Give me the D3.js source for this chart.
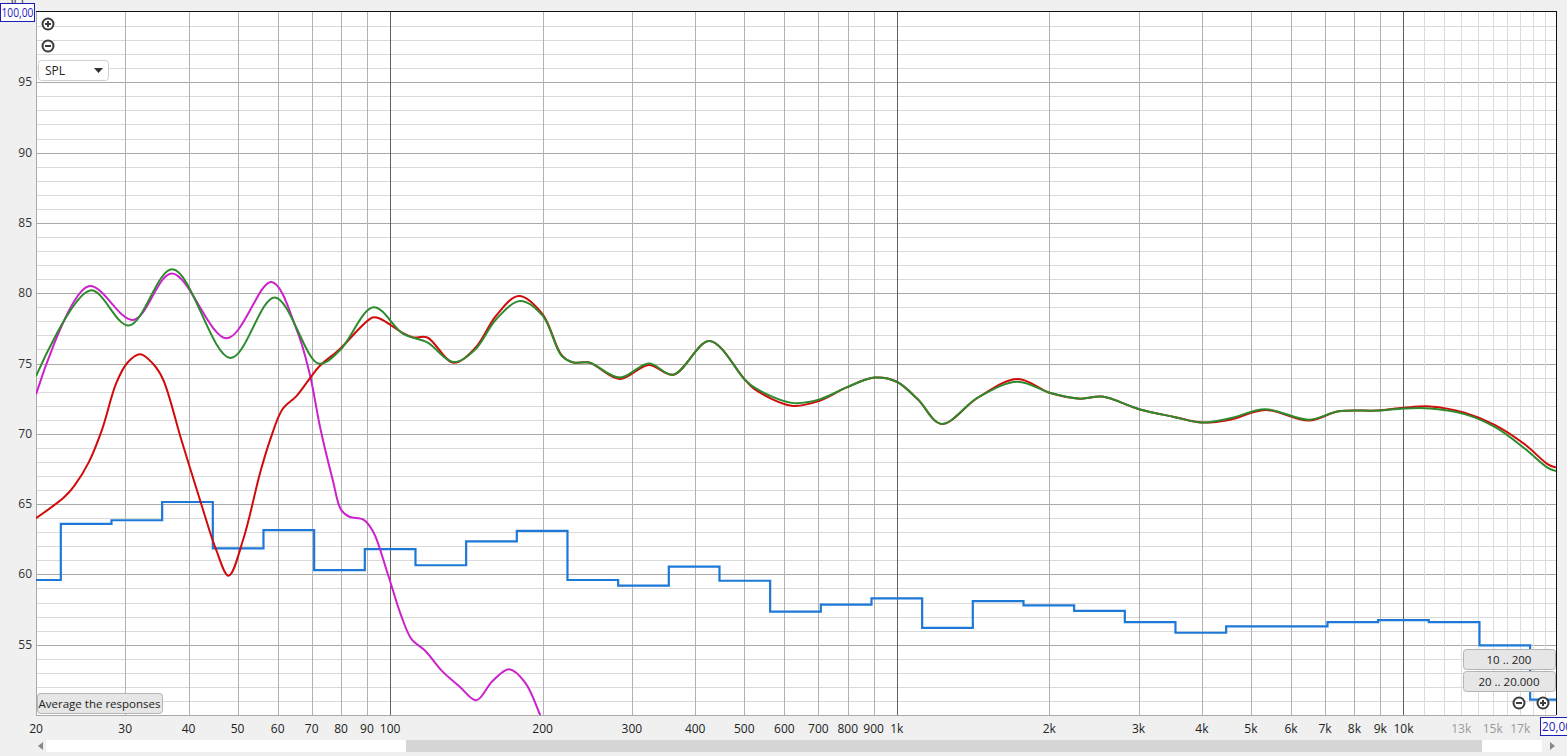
<!DOCTYPE html>
<html lang="en">
<head>
    <meta charset="UTF-8">
    <title>SPL response</title>
    <script src="https://d3js.org/d3.v7.min.js"></script>
    <style>
        body {
            margin: 0;
            padding: 0;
            background-color: #f0f0f0;
            overflow: hidden;
        }
        svg text {
            font-family: "Open Sans", "Noto Sans", sans-serif;
            font-size: 12px;
        }
    </style>
</head>
<body>
<div id="chart"></div>
<script>
    // --- data ---
    // 1/3 octave bands (blue step trace)
    const bandCenters = [20, 25, 31.5, 40, 50, 63, 80, 100, 125, 160, 200, 250, 315, 400, 500, 630, 800,
        1000, 1250, 1600, 2000, 2500, 3150, 4000, 5000, 6300, 8000, 10000, 12500, 16000, 20000];
    const bandLevels = [59.6, 63.6, 63.85, 65.15, 61.85, 63.15, 60.3, 61.8, 60.65, 62.35, 63.1, 59.6, 59.2, 60.55, 59.55, 57.35, 57.85,
        58.3, 56.2, 58.1, 57.8, 57.4, 56.6, 55.85, 56.3, 56.3, 56.6, 56.75, 56.6, 54.95, 51.1];

    // red trace
    const redFreq = [20, 22.75, 23.8, 25.4, 27.0, 28.8, 30.3, 32.1, 34.0, 35.6, 38.7, 42.5, 45.3, 48.0, 51.3, 55.4, 58.0, 61.3, 65.4, 69.3, 72.5, 79.4,
        92.3, 95.3, 106.2, 111.1, 118.4, 133.3, 147.2, 161.9, 179.4, 200, 218, 230, 247, 284, 324, 362, 427, 500, 523, 620, 704, 796, 904,
        1000, 1100, 1225, 1449, 1730, 2010, 2302, 2543, 3008, 3526, 4004, 4548, 5330, 6506, 7454, 8897, 10000, 11290, 13200, 15200, 17420, 19240, 20000];
    const redDb = [64.0, 65.5, 66.3, 67.95, 70.3, 73.6, 75.05, 75.65, 75.0, 73.9, 69.6, 64.86, 61.8, 59.9, 62.5, 67.24, 69.6, 71.75, 72.7, 73.9, 74.8, 76.0,
        78.27, 78.2, 77.15, 76.85, 76.85, 75.05, 76.1, 78.4, 79.8, 78.5, 75.6, 75.07, 75.07, 73.9, 74.9, 74.2, 76.6, 73.9, 73.2, 72.0, 72.35, 73.3, 74.0,
        73.7, 72.45, 70.7, 72.6, 73.9, 72.9, 72.5, 72.65, 71.75, 71.2, 70.8, 71.0, 71.7, 70.95, 71.6, 71.65, 71.85, 71.95, 71.5, 70.6, 69.2, 67.85, 67.6];

    // green trace
    const greenFreq = [20, 25.6, 30.5, 37.2, 48.4, 59.2, 72.2, 79.4, 92.7, 106.2, 118.4, 133.3, 147.2, 161.9, 180.6, 200, 218, 230, 247, 284, 324,
        362, 427, 500, 523, 620, 704, 796, 904, 1000, 1100, 1225, 1449, 1730, 2010, 2302, 2543, 3008, 3526, 4004, 4548, 5330, 6506, 7454, 8897,
        10000, 11290, 13200, 15200, 17420, 19240, 20000];
    const greenDb = [74.1, 80.2, 77.7, 81.7, 75.4, 79.7, 75.0, 75.9, 79.0, 77.1, 76.5, 75.1, 76.0, 78.15, 79.45, 78.4, 75.55, 75.07, 75.07, 74.0, 75.0,
        74.2, 76.6, 73.9, 73.3, 72.2, 72.45, 73.3, 74.0, 73.7, 72.45, 70.7, 72.6, 73.7, 72.9, 72.5, 72.65, 71.75, 71.2, 70.8, 71.1, 71.75, 71.0, 71.6, 71.65,
        71.8, 71.8, 71.4, 70.45, 68.9, 67.6, 67.35];

    // magenta trace
    const magentaFreq = [20, 25.4, 31.1, 37.1, 47.6, 58.3, 65.4, 69.3, 72.9, 77.0, 80.0, 83.1, 88.6, 92.7, 98.8, 105.3, 110.2, 117.4, 126.8,
        136.9, 147.9, 159.1, 171.8, 184.7, 197.7, 205];
    const magentaDb = [72.8, 80.5, 78.1, 81.4, 76.8, 80.8, 77.4, 74.35, 70.3, 66.75, 64.6, 64.1, 63.9, 63.0, 60.1, 57.0, 55.4, 54.55, 53.1,
        52.05, 51.05, 52.4, 53.25, 52.3, 50.0, 48.6];

    // axis ticks
    const yTicks = [55, 60, 65, 70, 75, 80, 85, 90, 95];
    const xTicks = [20, 30, 40, 50, 60, 70, 80, 90, 100, 200, 300, 400, 500, 600, 700, 800, 900,
        1000, 2000, 3000, 4000, 5000, 6000, 7000, 8000, 9000, 10000];
    const xTickLabels = ["20", "30", "40", "50", "60", "70", "80", "90", "100", "200", "300", "400", "500", "600", "700", "800", "900",
        "1k", "2k", "3k", "4k", "5k", "6k", "7k", "8k", "9k", "10k"];
    const xGrayTicks = [13000, 15000, 17000];
    const xGrayLabels = ["13k", "15k", "17k"];

    // --- layout ---
    const width = 1567, height = 756;
    const plotLeft = 36, plotRight = 1556, plotTop = 12, plotBottom = 715;

    const svg = d3.select("#chart")
        .append("svg")
        .attr("width", width)
        .attr("height", height);

    const x = d3.scaleLog().domain([20, 20000]).range([plotLeft, plotRight]);
    const y = d3.scaleLinear().domain([50, 100]).range([plotBottom, plotTop]);

    svg.append("rect")
        .attr("width", width)
        .attr("height", height)
        .attr("fill", "#f0f0f0");

    svg.append("rect")
        .attr("x", plotLeft).attr("y", plotTop)
        .attr("width", plotRight - plotLeft).attr("height", plotBottom - plotTop)
        .attr("fill", "#fff");

    svg.append("clipPath").attr("id", "plotClip")
        .append("rect")
        .attr("x", plotLeft).attr("y", plotTop)
        .attr("width", plotRight - plotLeft).attr("height", plotBottom - plotTop);

    const grid = svg.append("g").attr("shape-rendering", "crispEdges");

    // horizontal grid, every dB
    const dbLines = d3.range(51, 100);
    grid.selectAll("line.h")
        .data(dbLines)
        .enter()
        .append("line")
        .attr("x1", plotLeft).attr("x2", plotRight)
        .attr("y1", d => Math.round(y(d)) + 0.5)
        .attr("y2", d => Math.round(y(d)) + 0.5)
        .attr("stroke", d => d % 5 === 0 ? "#a9a9a9" : "#dadada");

    // vertical grid
    const fineHigh = d3.range(11000, 20000, 1000);
    grid.selectAll("line.fine")
        .data(fineHigh)
        .enter()
        .append("line")
        .attr("y1", plotTop).attr("y2", plotBottom)
        .attr("x1", d => Math.round(x(d)) + 0.5)
        .attr("x2", d => Math.round(x(d)) + 0.5)
        .attr("stroke", "#dcdcdc");

    const minorV = xTicks.filter(f => f !== 20 && f !== 100 && f !== 1000 && f !== 10000);
    grid.selectAll("line.minor")
        .data(minorV)
        .enter()
        .append("line")
        .attr("y1", plotTop).attr("y2", plotBottom)
        .attr("x1", d => Math.round(x(d)) + 0.5)
        .attr("x2", d => Math.round(x(d)) + 0.5)
        .attr("stroke", "#b2b2b2");

    grid.selectAll("line.decade")
        .data([100, 1000, 10000])
        .enter()
        .append("line")
        .attr("y1", plotTop).attr("y2", plotBottom)
        .attr("x1", d => Math.round(x(d)) + 0.5)
        .attr("x2", d => Math.round(x(d)) + 0.5)
        .attr("stroke", "#5f5f5f");

    // plot frame
    grid.append("line").attr("x1", plotLeft + 0.5).attr("x2", plotLeft + 0.5).attr("y1", plotTop).attr("y2", plotBottom).attr("stroke", "#a9a9a9");
    grid.append("line").attr("x1", plotLeft).attr("x2", plotRight).attr("y1", plotBottom + 0.5).attr("y2", plotBottom + 0.5).attr("stroke", "#a9a9a9");
    grid.append("line").attr("x1", plotLeft).attr("x2", plotRight + 1).attr("y1", plotTop - 0.5).attr("y2", plotTop - 0.5).attr("stroke", "#111");
    grid.append("line").attr("x1", plotRight + 0.5).attr("x2", plotRight + 0.5).attr("y1", plotTop).attr("y2", plotBottom).attr("stroke", "#111");

    // --- traces ---
    const plot = svg.append("g").attr("clip-path", "url(#plotClip)");

    // blue step trace from band edges
    const bandPts = [];
    bandCenters.forEach((c, i) => {
        const n = Math.round(10 * Math.log10(c));
        const lo = Math.max(20, Math.pow(10, (n - 0.5) / 10));
        const hi = Math.min(20000, Math.pow(10, (n + 0.5) / 10));
        bandPts.push([lo, bandLevels[i]], [hi, bandLevels[i]]);
    });

    plot.append("path")
        .datum(bandPts)
        .attr("fill", "none")
        .attr("stroke", "#1e78d8")
        .attr("stroke-width", 2.2)
        .attr("d", d3.line().x(d => x(d[0])).y(d => y(d[1])));

    const smooth = d3.line()
        .x(d => x(d[0]))
        .y(d => y(d[1]))
        .curve(d3.curveCatmullRom.alpha(0.5));

    const zip = (fs, vs) => fs.map((f, i) => [f, vs[i]]);

    plot.append("path")
        .datum(zip(magentaFreq, magentaDb))
        .attr("fill", "none")
        .attr("stroke", "#cc22cc")
        .attr("stroke-width", 2)
        .attr("d", smooth);

    plot.append("path")
        .datum(zip(redFreq, redDb))
        .attr("fill", "none")
        .attr("stroke", "#d10a0a")
        .attr("stroke-width", 2)
        .attr("d", smooth);

    plot.append("path")
        .datum(zip(greenFreq, greenDb))
        .attr("fill", "none")
        .attr("stroke", "#2d8a2d")
        .attr("stroke-width", 2)
        .attr("d", smooth);

    // --- axis labels ---
    svg.selectAll("text.ylab")
        .data(yTicks)
        .enter()
        .append("text")
        .attr("x", 32)
        .attr("y", d => y(d) + 4)
        .attr("text-anchor", "end")
        .attr("fill", "#333")
        .text(d => d);

    svg.selectAll("text.xlab")
        .data(xTicks)
        .enter()
        .append("text")
        .attr("x", d => x(d))
        .attr("y", 733)
        .attr("text-anchor", "middle")
        .attr("fill", "#222")
        .text((d, i) => xTickLabels[i]);

    svg.selectAll("text.xgray")
        .data(xGrayTicks)
        .enter()
        .append("text")
        .attr("x", d => x(d))
        .attr("y", 733)
        .attr("text-anchor", "middle")
        .attr("fill", "#9a9a9a")
        .text((d, i) => xGrayLabels[i]);

    // boxed range values
    svg.append("text").attr("x", 17).attr("y", 4).attr("text-anchor", "middle").attr("fill", "#444").text("SPL");
    svg.append("rect").attr("x", 0.5).attr("y", 3.5).attr("width", 34).attr("height", 18)
        .attr("fill", "#fff").attr("stroke", "#1c1cb8");
    svg.append("text").attr("x", 1.5).attr("y", 17)
        .attr("textLength", 32).attr("lengthAdjust", "spacingAndGlyphs")
        .attr("fill", "#1c1cb8").text("100,00");

    svg.append("rect").attr("x", 1540.5).attr("y", 717.5).attr("width", 40).attr("height", 18)
        .attr("fill", "#fff").attr("stroke", "#1c1cb8");
    svg.append("text").attr("x", 1542).attr("y", 731)
        .attr("textLength", 30).attr("lengthAdjust", "spacingAndGlyphs")
        .attr("fill", "#1c1cb8").text("20,00");

    // --- controls ---
    function zoomIcon(cx, cy, plus) {
        const g = svg.append("g");
        g.append("circle").attr("cx", cx).attr("cy", cy).attr("r", 6.5).attr("fill", "#3c3c3c");
        g.append("circle").attr("cx", cx).attr("cy", cy).attr("r", 4.5).attr("fill", "#fff");
        g.append("line").attr("x1", cx - 3).attr("x2", cx + 3).attr("y1", cy).attr("y2", cy)
            .attr("stroke", "#3c3c3c").attr("stroke-width", 2);
        if (plus) {
            g.append("line").attr("x1", cx).attr("x2", cx).attr("y1", cy - 3).attr("y2", cy + 3)
                .attr("stroke", "#3c3c3c").attr("stroke-width", 2);
        }
    }
    zoomIcon(48, 24, true);
    zoomIcon(48, 46, false);
    zoomIcon(1519, 703, false);
    zoomIcon(1543, 703, true);

    // SPL dropdown
    svg.append("rect").attr("x", 38.5).attr("y", 60.5).attr("width", 70).attr("height", 20).attr("rx", 3)
        .attr("fill", "#fff").attr("stroke", "#d0d0d0");
    svg.append("text").attr("x", 45).attr("y", 75).attr("fill", "#222").text("SPL");
    svg.append("path").attr("d", "M94,68 L103,68 L98.5,73 Z").attr("fill", "#333");

    function button(bx, by, w, h, label) {
        svg.append("rect").attr("x", bx + 0.5).attr("y", by + 0.5).attr("width", w).attr("height", h).attr("rx", 3)
            .attr("fill", "#e6e6e6").attr("stroke", "#b4b4b4");
        svg.append("text").attr("x", bx + w / 2).attr("y", by + h / 2 + 4.5)
            .attr("text-anchor", "middle").attr("fill", "#222")
            .style("font-size", "11.5px").text(label);
    }
    button(37, 693, 125, 20, "Average the responses");
    button(1463, 649, 92, 20, "10 .. 200");
    button(1463, 671, 92, 20, "20 .. 20.000");

    // scrollbar
    svg.append("rect").attr("x", 46).attr("y", 740).attr("width", 1496).attr("height", 12).attr("fill", "#fff");
    svg.append("rect").attr("x", 406).attr("y", 740).attr("width", 1076).attr("height", 12).attr("fill", "#d6d6d6");
    svg.append("path").attr("d", "M43,742 L43,750 L38,746 Z").attr("fill", "#888");
    svg.append("path").attr("d", "M1550,742 L1550,750 L1555,746 Z").attr("fill", "#888");
</script>
</body>
</html>
